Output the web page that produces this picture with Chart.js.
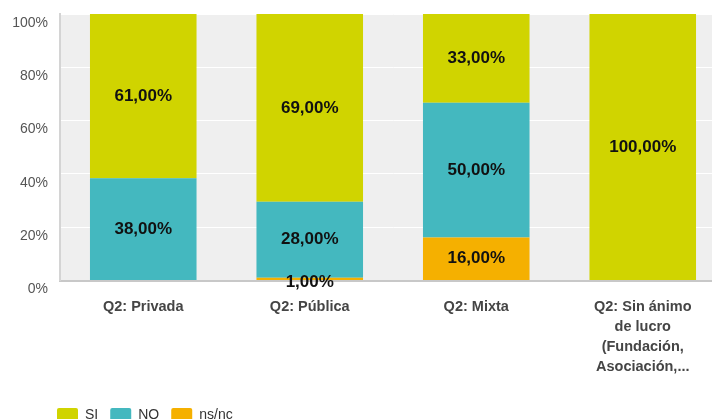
<!DOCTYPE html>
<html>
<head>
<meta charset="utf-8">
<script src="https://cdn.jsdelivr.net/npm/chart.js@4.4.1/dist/chart.umd.min.js"></script>
<style>
  html, body { margin: 0; padding: 0; overflow: hidden; background: #fff; }
</style>
</head>
<body>
<canvas id="chart" width="726" height="432"></canvas>
<script>
// categories and values (percent of answers)
const categories = [
    ['Q2: Privada'],
    ['Q2: Pública'],
    ['Q2: Mixta'],
    ['Q2: Sin ánimo', 'de lucro', '(Fundación,', 'Asociación,...']
];
const si_values = [61, 69, 33, 100];
const no_values = [38, 28, 50, 0];
const nsnc_values = [0, 1, 16, 0];
const y_ticks = [0, 20, 40, 60, 80, 100];

// 100% stacked: each column scaled to its own total
const totals = categories.map((c, i) => si_values[i] + no_values[i] + nsnc_values[i]);
function share(values) {
    return values.map((v, i) => v / totals[i] * 100);
}

const font_name = '"Liberation Sans", Arial, Helvetica, sans-serif';

// grey plot background
const plotBackground = {
    id: 'plotBackground',
    beforeDraw(chart) {
        const a = chart.chartArea;
        const ctx = chart.ctx;
        ctx.save();
        ctx.fillStyle = '#efefef';
        ctx.fillRect(a.left, a.top, a.right - a.left, a.bottom - a.top);
        ctx.restore();
    }
};

// value labels in the middle of each segment
const barLabels = {
    id: 'barLabels',
    afterDatasetsDraw(chart) {
        const ctx = chart.ctx;
        ctx.save();
        ctx.font = 'bold 17px ' + font_name;
        ctx.fillStyle = '#111111';
        ctx.textAlign = 'center';
        ctx.textBaseline = 'middle';
        chart.data.datasets.forEach((ds, i) => {
            chart.getDatasetMeta(i).data.forEach((bar, j) => {
                const v = ds.raw_values[j];
                if (!v) return;
                let y = (bar.y + bar.base) / 2;
                // thin segments: label hangs a little below
                if (bar.base - bar.y < 10) y += 3;
                ctx.fillText(v.toFixed(2).replace('.', ',') + '%', bar.x, y);
            });
        });
        ctx.restore();
    }
};

// legend sits under the plot, not at the canvas edge
const legendShift = {
    id: 'legendShift',
    afterLayout(chart) {
        chart.legend.left = 45;
    }
};

const data = {
    labels: categories,
    datasets: [{
        label: 'ns/nc',
        data: share(nsnc_values),
        raw_values: nsnc_values,
        backgroundColor: '#f5b000'
    }, {
        label: 'NO',
        data: share(no_values),
        raw_values: no_values,
        backgroundColor: '#44b8bf'
    }, {
        label: 'SI',
        data: share(si_values),
        raw_values: si_values,
        backgroundColor: '#d0d400'
    }]
};

const config = {
    type: 'bar',
    data: data,
    plugins: [plotBackground, barLabels, legendShift],
    options: {
        responsive: false,
        animation: false,
        devicePixelRatio: 1,
        categoryPercentage: 1,
        barPercentage: 0.64,
        layout: {
            padding: { top: 14, left: 0, right: 0, bottom: 0 }
        },
        scales: {
            x: {
                stacked: true,
                grid: { display: false },
                border: { color: '#c8c8c8', width: 2 },
                ticks: {
                    color: '#454545',
                    padding: 8,
                    maxRotation: 0,
                    autoSkip: false,
                    font: { family: font_name, size: 14.5, weight: 'bold', lineHeight: '20px' }
                },
                afterFit(scale) {
                    scale.height = 115.5;
                }
            },
            y: {
                stacked: true,
                min: 0,
                max: 100,
                afterBuildTicks(scale) {
                    scale.ticks = y_ticks.map(v => ({ value: v }));
                },
                grid: { color: '#ffffff', lineWidth: 1, drawTicks: false },
                border: { color: '#d4d4d4', width: 2 },
                ticks: {
                    color: '#555555',
                    padding: 12,
                    labelOffset: 9,
                    font: { family: font_name, size: 14 },
                    callback: v => v + '%'
                },
                afterFit(scale) {
                    scale.width = 60;
                    scale.paddingTop = 0;
                    scale.paddingBottom = 0;
                }
            }
        },
        plugins: {
            tooltip: { enabled: false },
            legend: {
                position: 'bottom',
                align: 'start',
                reverse: true,
                labels: {
                    boxWidth: 21,
                    boxHeight: 14,
                    padding: 12,
                    color: '#333333',
                    useBorderRadius: true,
                    borderRadius: 2,
                    font: { family: font_name, size: 14 }
                }
            }
        }
    }
};

new Chart(document.getElementById('chart').getContext('2d'), config);
</script>
</body>
</html>
